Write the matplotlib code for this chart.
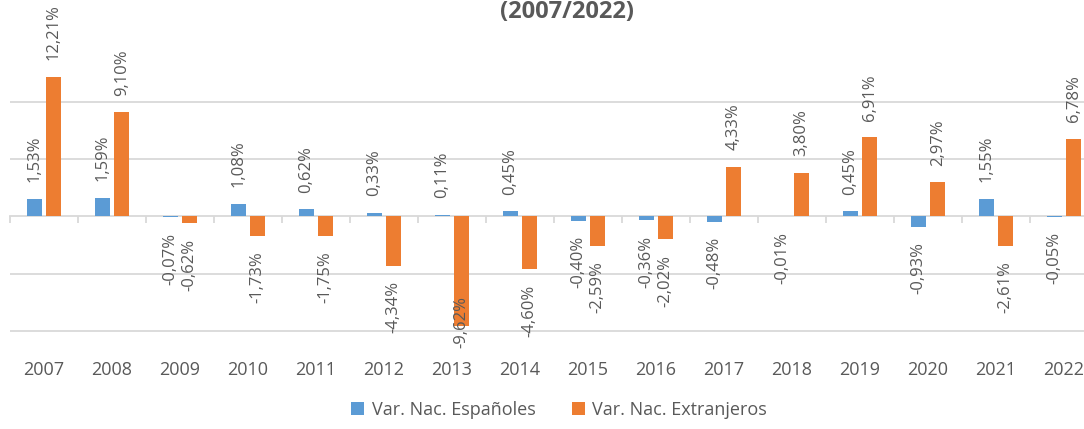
import matplotlib.pyplot as plt
import matplotlib.transforms as mtransforms
import numpy as np

# --- Data ---
years = ["2007", "2008", "2009", "2010", "2011", "2012", "2013", "2014",
         "2015", "2016", "2017", "2018", "2019", "2020", "2021", "2022"]
espanoles = [1.53, 1.59, -0.07, 1.08, 0.62, 0.33, 0.11, 0.45,
             -0.40, -0.36, -0.48, -0.01, 0.45, -0.93, 1.55, -0.05]
extranjeros = [12.21, 9.10, -0.62, -1.73, -1.75, -4.34, -9.62, -4.60,
               -2.59, -2.02, 4.33, 3.80, 6.91, 2.97, -2.61, 6.78]
series_names = ["Var. Nac. Españoles", "Var. Nac. Extranjeros"]
title = "(2007/2022)"

# --- Style ---
BLUE = "#5B9BD5"
ORANGE = "#ED7D31"
TEXT = "#595959"
GRID = "#D9D9D9"
plt.rcParams['font.family'] = ['Open Sans', 'DejaVu Sans']

W, H = 1084, 429
fig = plt.figure(figsize=(W / 100, H / 100), dpi=100)
# plot area runs off the right edge, like the cropped original
ax = fig.add_axes([10 / W, (H - 348) / H, 1088 / W, 348 / H])

x = np.arange(len(years))
bar_w = 0.22
off = 0.143
b1 = ax.bar(x - off, espanoles, bar_w, color=BLUE, label=series_names[0], zorder=3)
b2 = ax.bar(x + off, extranjeros, bar_w, color=ORANGE, label=series_names[1], zorder=3)

ax.set_xlim(-0.5, len(years) - 0.5)
ax.set_ylim(-11.5, 18.9)

# horizontal gridlines
for yv in [-10, -5, 5, 10]:
    ax.axhline(yv, color=GRID, lw=1.3, zorder=1)

for s in ax.spines.values():
    s.set_visible(False)
ax.spines['bottom'].set_visible(True)
ax.spines['bottom'].set_position(('data', 0))
ax.spines['bottom'].set_color(GRID)
ax.spines['bottom'].set_linewidth(1.3)
ax.set_yticks([])
ax.set_xticks(np.arange(-0.5, len(years), 1.0))
ax.tick_params(axis='x', length=5, width=1.3, color=GRID, labelbottom=False)

# category labels below the plot area
trans = mtransforms.blended_transform_factory(ax.transData, ax.transAxes)
for xi, yr in zip(x, years):
    ax.text(xi, -0.036, yr, transform=trans, ha='center', va='top', fontsize=13,
            color=TEXT, clip_on=False)

# data labels
def fmt(v):
    return f"{v:.2f}%".replace('.', ',')

labels = []
for bars, vals in [(b1, espanoles), (b2, extranjeros)]:
    for rect, v in zip(bars, vals):
        cx = rect.get_x() + rect.get_width() / 2
        if v >= 0:
            t = ax.annotate(fmt(v), (cx, v), xytext=(0, 12), textcoords='offset points',
                            rotation=90, ha='center', va='bottom', fontsize=12,
                            color=TEXT, zorder=4)
        else:
            t = ax.annotate(fmt(v), (cx, v), xytext=(0, -11), textcoords='offset points',
                            rotation=90, ha='center', va='top', fontsize=12,
                            color=TEXT, zorder=4)
        labels.append((t, cx))

# keep labels inside the plot area (as Excel does)
fig.canvas.draw()
r = fig.canvas.get_renderer()
ax_bb = ax.get_window_extent(r)
for t, cx in labels:
    bb = t.get_window_extent(r)
    if bb.y0 < ax_bb.y0:
        t.xy = (cx, ax.get_ylim()[0])
        t.xyann = (0, 0)
        t.set_va('bottom')

fig.text(567 / W, 1 - 12 / H, title, ha='center', va='center', fontsize=17,
         fontweight='bold', color=TEXT)

leg = fig.legend(handles=[b1, b2], labels=series_names, loc='center',
                 bbox_to_anchor=(559 / W, 1 - 410 / H), ncol=2, frameon=False,
                 fontsize=13, handlelength=0.75, handleheight=0.75,
                 handletextpad=0.4, columnspacing=2.0, labelcolor=TEXT)

fig.savefig("out.png", dpi=100)
